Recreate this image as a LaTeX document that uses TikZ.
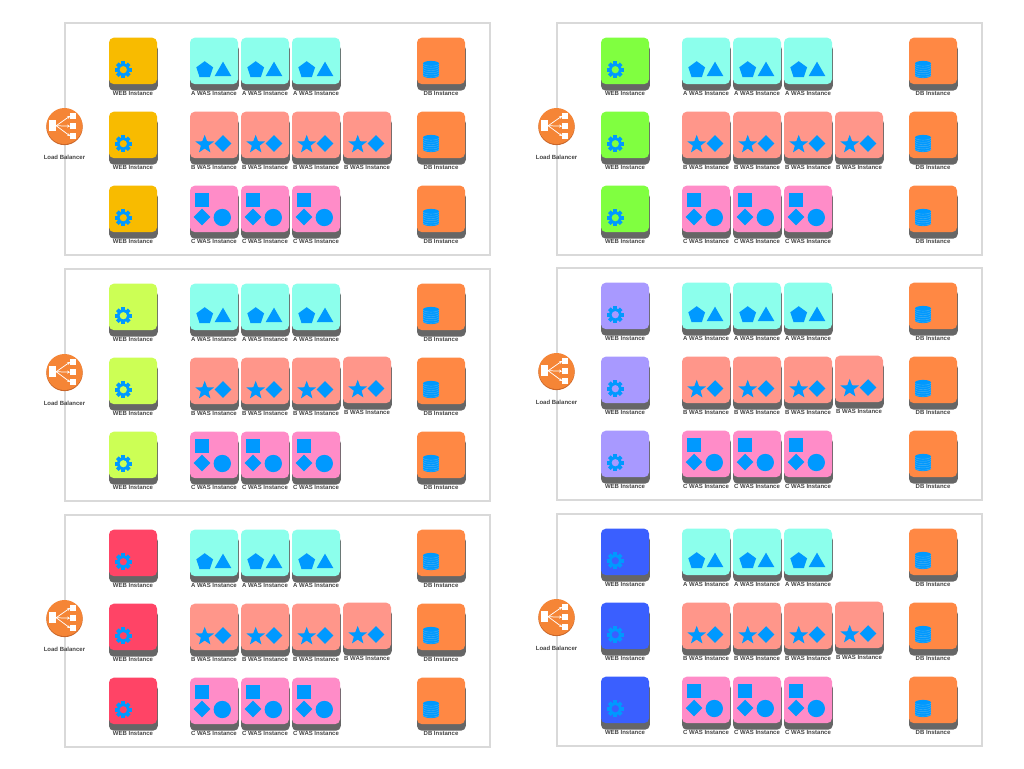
\documentclass[tikz,border=0pt]{standalone}
\usepackage{fontspec}
\setmainfont{Liberation Sans}
\usetikzlibrary{shapes.geometric,arrows.meta}
\definecolor{frameC}{HTML}{D9D9D9}
\definecolor{shadowC}{HTML}{666666}
\definecolor{iconC}{HTML}{0099FF}
\definecolor{stripeC}{HTML}{4FB0EE}
\definecolor{waA}{HTML}{8CFFEC}
\definecolor{waB}{HTML}{FF968A}
\definecolor{waC}{HTML}{FF8CC8}
\definecolor{dbC}{HTML}{FF8844}
\definecolor{lbC}{HTML}{F58536}
\definecolor{lbD}{HTML}{C9662A}
\definecolor{textC}{HTML}{444444}
\definecolor{w1}{HTML}{F8BB00}
\definecolor{w2}{HTML}{80FF40}
\definecolor{w3}{HTML}{CCFF55}
\definecolor{w4}{HTML}{A899FF}
\definecolor{w5}{HTML}{FF4466}
\definecolor{w6}{HTML}{3A5FFF}
\tikzset{
  x=0.75pt,y=-0.75pt,
  panelbox/.style={draw=frameC,line width=1.9pt,fill=white,rectangle,anchor=north west,inner sep=0pt,outer sep=0pt,minimum width=318.75pt,minimum height=174pt},
  tilecard/.style={rectangle,rounded corners=3.6pt,anchor=north west,inner sep=0pt,outer sep=0pt,minimum width=36pt,minimum height=34.8pt},
  tileshade/.style={tilecard,fill=shadowC,minimum width=36.6pt,minimum height=34.8pt},
  tilecap/.style={font=\bfseries\fontsize{4.5}{5}\selectfont,text=textC,inner sep=0pt,anchor=center},
  ic/.style={fill=iconC,draw=none,inner sep=0pt,outer sep=0pt},
  lbbox/.style={fill=white,draw=none,rectangle,inner sep=0pt,outer sep=0pt},
  lbarrow/.style={white,line width=0.55pt,-{Stealth[length=2.2pt,width=2.2pt]}}
}
% #1 name, #2 x, #3 y, #4 colour, #5 caption
\newcommand\tileAt[5]{%
  \node[tileshade] (#1s) at (#2,#3+6.3) {};
  \node[tilecard,fill=#4] (#1) at (#2,#3-0.3) {};
  \node[tilecap] (#1l) at (#2+24,#3+55) {#5};
}
\newcommand\gearAt[3]{% colour x y (centre)
  \begin{scope}[shift={(#2,#3)}]
    \foreach \a in {0,45,...,315}{\fill[iconC,rotate=\a] (-1.9,-8.4) rectangle (1.9,-4);}
    \fill[iconC] (0,0) circle (6.3);
    \fill[#1] (0,0) circle (3.6);
  \end{scope}
}
\newcommand\dbAt[2]{% x y (centre)
  \begin{scope}[shift={(#1,#2)}]
    \fill[iconC] (-8,-6) rectangle (8,6);
    \fill[iconC] (0,-6) ellipse (8 and 2.6);
    \fill[iconC] (0,6) ellipse (8 and 2.6);
    \foreach \d in {-4.2,-2,0.2,2.4,4.6,6.8}
      \draw[stripeC,line width=0.3pt] (-8,\d-1.5) arc[x radius=8,y radius=2.3,start angle=180,end angle=0];
  \end{scope}
}
\newcommand\lbAt[1]{%
  \fill[lbD] (64.5,126.9) circle (18.2);
  \fill[lbC] (64.5,126) circle (18);
  \node[lbbox,minimum width=5.2pt,minimum height=8.2pt] (#1-lbm) at (52.7,125.7) {};
  \node[lbbox,minimum width=4.4pt,minimum height=4.6pt] (#1-lb1) at (73,116) {};
  \node[lbbox,minimum width=4.4pt,minimum height=4.6pt] (#1-lb2) at (73,126.2) {};
  \node[lbbox,minimum width=4.4pt,minimum height=4.6pt] (#1-lb3) at (73,136) {};
  \draw[lbarrow] (#1-lbm.east) -- (#1-lb1.west);
  \draw[lbarrow] (#1-lbm.east) -- (#1-lb2.west);
  \draw[lbarrow] (#1-lbm.east) -- (#1-lb3.west);
  \node[tilecap] (#1-lbl) at (64.5,157) {Load Balancer};
}
% #1 id  #2 dx  #3 dy  #4 web colour  #5 vertical offset of the fourth B tile
\newcommand\panelAt[5]{%
\begin{scope}[shift={(#2,#3)}]
  \node[panelbox] (#1-f) at (65,23) {};
  \lbAt{#1}
  \foreach \r/\y in {1/38,2/112,3/186}{
    \tileAt{#1-w\r}{109}{\y}{#4}{WEB Instance}
    \gearAt{#4}{123.3}{\y+31.7}
    \tileAt{#1-d\r}{417}{\y}{dbC}{DB Instance}
    \dbAt{431}{\y+31.5}
  }
  \foreach \c/\x in {1/190,2/241,3/292}{
    \tileAt{#1-a\c}{\x}{38}{waA}{A WAS Instance}
    \node[ic,regular polygon,regular polygon sides=5,minimum size=13.2pt] (#1-ap\c) at (\x+14.7,70) {};
    \node[ic,regular polygon,regular polygon sides=3,minimum size=14.5pt] (#1-at\c) at (\x+33,71.3) {};
    \tileAt{#1-c\c}{\x}{186}{waC}{C WAS Instance}
    \fill[iconC] (\x+4.7,192.7) rectangle (\x+19.3,207);
    \node[ic,diamond,minimum size=12.4pt] (#1-cd\c) at (\x+12,217) {};
    \node[ic,circle,minimum size=13pt] (#1-cc\c) at (\x+32.3,217.5) {};
  }
  \foreach \c/\x/\o in {1/190/0,2/241/0,3/292/0,4/343/#5}{
    \tileAt{#1-b\c}{\x}{112+\o}{waB}{B WAS Instance}
    \node[ic,star,star points=5,star point ratio=2.4,minimum size=14.6pt] (#1-bs\c) at (\x+14.7,144.5+\o) {};
    \node[ic,diamond,minimum size=12.4pt] (#1-bd\c) at (\x+33,143.5+\o) {};
  }
\end{scope}}
\begin{document}
\begin{tikzpicture}
\useasboundingbox (0,0) rectangle (1024,768);
\fill[white] (0,0) rectangle (1024,768);
\panelAt{p1}{0}{0}{w1}{0}
\panelAt{p2}{492}{0}{w2}{0}
\panelAt{p3}{0}{246}{w3}{-1}
\panelAt{p4}{492}{245}{w4}{-1}
\panelAt{p5}{0}{492}{w5}{-1}
\panelAt{p6}{492}{491}{w6}{-1}
\end{tikzpicture}
\end{document}
